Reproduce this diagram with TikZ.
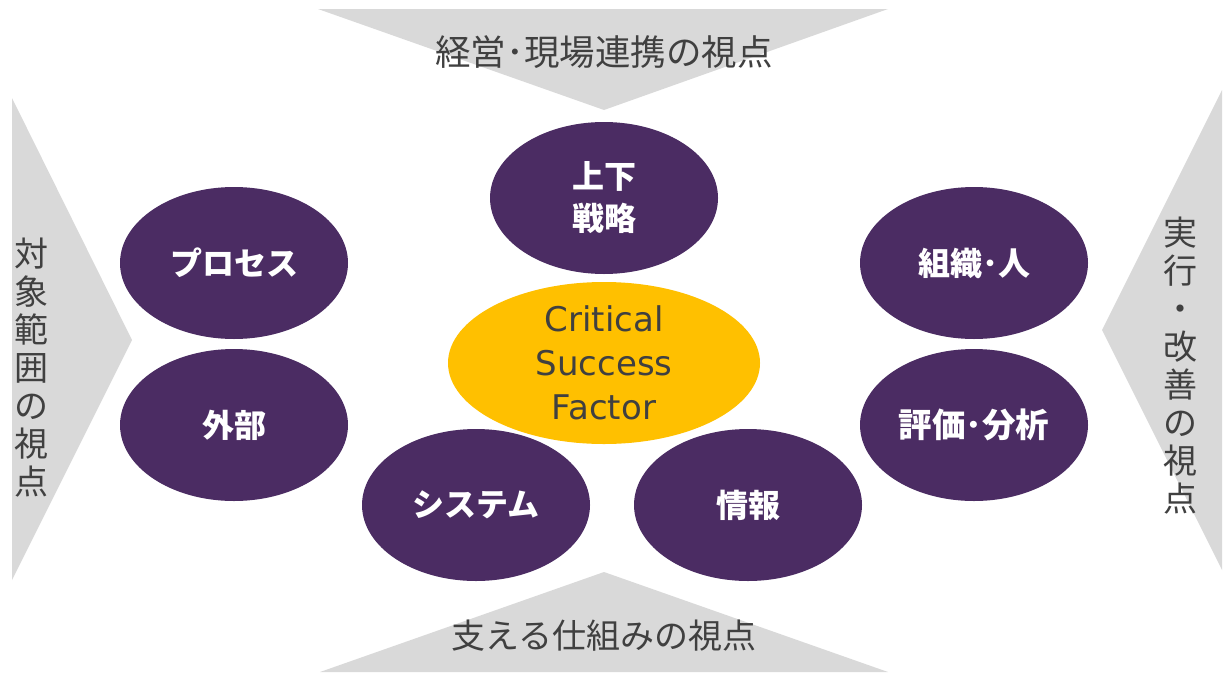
\documentclass[tikz,border=0pt]{standalone}
\usepackage{fontspec}
\newfontfamily\jpfont{Noto Sans CJK JP}
\newfontfamily\csffont{DejaVu Sans}
\definecolor{arrowgray}{HTML}{D9D9D9}
\definecolor{textgray}{HTML}{404040}
\definecolor{purp}{HTML}{4B2C63}
\definecolor{gold}{HTML}{FFC000}
\usetikzlibrary{shapes.geometric}
\tikzset{
  pill/.style={ellipse, fill=purp, minimum width=228pt, minimum height=152pt, inner sep=0pt,
    text=white, font=\jpfont\bfseries\fontsize{32}{42}\selectfont, align=center},
  viewlabel/.style={text=textgray, font=\jpfont\fontsize{34}{38}\selectfont, align=center, inner sep=0pt},
  arrowshape/.style={fill=arrowgray, draw=none}
}
\begin{document}
\begin{tikzpicture}[x=1pt,y=-1pt]
\useasboundingbox (0,0) rectangle (1230,672);
% perspective arrows
\fill[arrowshape] (318,9) -- (888,9) -- (604,110) -- cycle;
\fill[arrowshape] (12,98) -- (132,340) -- (12,580) -- cycle;
\fill[arrowshape] (1222,90) -- (1102,330) -- (1222,570) -- cycle;
\fill[arrowshape] (320,672) -- (604,572) -- (888,672) -- cycle;
\node[viewlabel, font=\jpfont\fontsize{35.5}{38}\selectfont] (top) at (604,52) {経営･現場連携の視点};
\node[viewlabel] (bottom) at (604,636) {支える仕組みの視点};
\node[viewlabel] (left) at (31,368) {対\\象\\範\\囲\\の\\視\\点};
\node[viewlabel] (right) at (1180,366) {実\\行\\・\\改\\善\\の\\視\\点};
% ellipses
\node[pill] (strategy) at (604,198) {上下\\戦略};
\node[pill] (process) at (234,263) {プロセス};
\node[pill] (external) at (234,425) {外部};
\node[pill] (org) at (974,263) {組織･人};
\node[pill, font=\jpfont\bfseries\fontsize{33.5}{42}\selectfont] (eval) at (974,425) {評価･分析};
\node[pill] (system) at (476,505) {システム};
\node[pill] (info) at (748,505) {情報};
\node[ellipse, fill=gold, minimum width=312pt, minimum height=162pt, inner sep=0pt,
  text=textgray, font=\csffont\fontsize{34}{44}\selectfont, align=center] (csf) at (604,363)
  {Critical\\Success\\Factor};
\end{tikzpicture}
\end{document}
